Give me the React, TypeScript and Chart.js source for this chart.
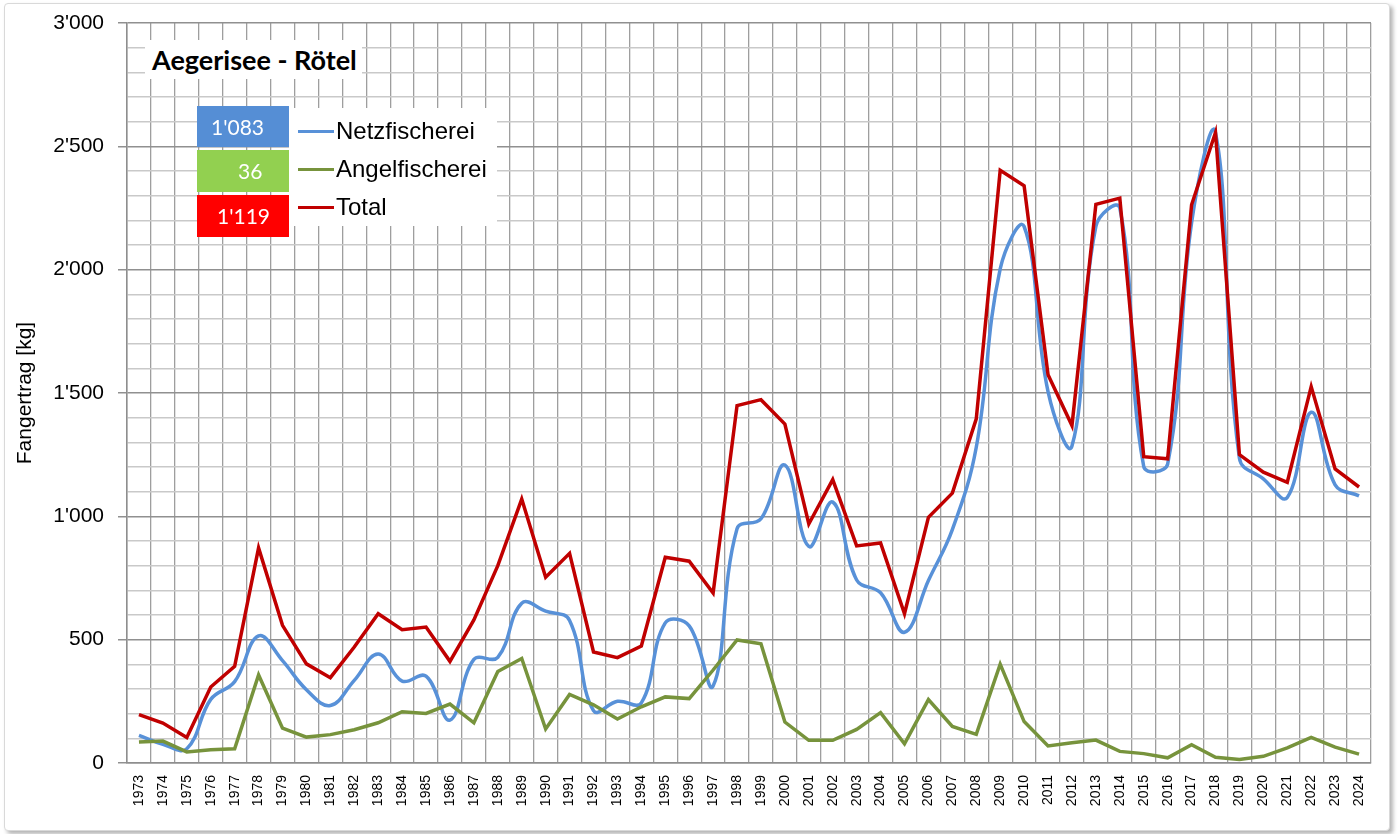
import React, { useEffect, useRef } from "react";
import { Chart, registerables } from "chart.js";

Chart.register(...registerables);

const years: string[] = [
  "1973","1974","1975","1976","1977","1978","1979","1980","1981","1982",
  "1983","1984","1985","1986","1987","1988","1989","1990","1991","1992",
  "1993","1994","1995","1996","1997","1998","1999","2000","2001","2002",
  "2003","2004","2005","2006","2007","2008","2009","2010","2011","2012",
  "2013","2014","2015","2016","2017","2018","2019","2020","2021","2022",
  "2023","2024",
];

const netzfischerei: number[] = [
  112, 76, 58, 258, 330, 515, 415, 297, 233, 335,
  442, 332, 352, 174, 420, 428, 648, 616, 578, 212,
  250, 244, 568, 556, 312, 950, 990, 1208, 878, 1058,
  742, 690, 530, 740, 946, 1280, 2003, 2175, 1506, 1285,
  2175, 2250, 1202, 1212, 2190, 2555, 1235, 1152, 1076, 1422,
  1128, 1083,
];

const angelfischerei: number[] = [
  85, 89, 45, 54, 58, 357, 141, 105, 115, 135,
  163, 208, 201, 239, 163, 371, 424, 138, 278, 236,
  178, 228, 268, 261, 377, 499, 483, 166, 92, 92,
  136, 204, 78, 257, 148, 116, 401, 168, 69, 82,
  93, 47, 38, 21, 74, 23, 14, 27, 61, 104,
  64, 36,
];

const total: number[] = [
  196, 162, 103, 308, 392, 872, 558, 402, 346, 470,
  605, 540, 551, 412, 580, 800, 1070, 753, 850, 450,
  427, 474, 834, 818, 689, 1449, 1473, 1374, 969, 1149,
  880, 892, 605, 996, 1094, 1395, 2403, 2340, 1574, 1368,
  2265, 2290, 1242, 1233, 2263, 2556, 1250, 1179, 1138, 1526,
  1192, 1119,
];

const yMin = 0;
const yMax = 3000;
const yMinorStep = 100;
const yMajorStep = 500;

const fmt = (v: number): string =>
  Math.round(v).toString().replace(/\B(?=(\d{3})+(?!\d))/g, "'");

const COLORS = {
  netzLine: "#5891D8",
  angelLine: "#77933C",
  totalLine: "#C00000",
  netzBox: "#558ED5",
  angelBox: "#92D050",
  totalBox: "#FF0000",
};

export default function App() {
  const canvasRef = useRef<HTMLCanvasElement | null>(null);

  useEffect(() => {
    if (!canvasRef.current) return;
    const yTickValues: number[] = [];
    for (let v = yMin; v <= yMax; v += yMinorStep) yTickValues.push(v);

    const chart = new Chart(canvasRef.current, {
      type: "line",
      data: {
        labels: years,
        datasets: [
          {
            label: "Netzfischerei",
            data: netzfischerei,
            borderColor: COLORS.netzLine,
            borderWidth: 3.5,
            pointRadius: 0,
            tension: 0.4,
            order: 2,
          },
          {
            label: "Angelfischerei",
            data: angelfischerei,
            borderColor: COLORS.angelLine,
            borderWidth: 3.5,
            pointRadius: 0,
            tension: 0,
            order: 1,
          },
          {
            label: "Total",
            data: total,
            borderColor: COLORS.totalLine,
            borderWidth: 3.5,
            pointRadius: 0,
            tension: 0,
            order: 0,
          },
        ],
      },
      options: {
        animation: false,
        responsive: false,
        maintainAspectRatio: false,
        layout: { padding: { left: 9, right: 27, top: 23, bottom: 0 } },
        plugins: {
          legend: { display: false },
          tooltip: { enabled: false },
          title: { display: false },
        },
        scales: {
          x: {
            type: "category",
            offset: true,
            grid: {
              offset: true,
              color: "#9e9e9e",
              lineWidth: 1.3,
              drawTicks: false,
            },
            border: { color: "#8e8e8e", width: 1.5 },
            ticks: {
              autoSkip: false,
              minRotation: 90,
              maxRotation: 90,
              padding: 12,
              color: "#000",
              font: { family: "'Liberation Sans', Arial, sans-serif", size: 14 },
            },
            afterFit: (scale: any) => {
              scale.height = 71;
              scale.paddingLeft = 0;
              scale.paddingRight = 0;
            },
          },
          y: {
            type: "linear",
            min: yMin,
            max: yMax,
            afterBuildTicks: (scale: any) => {
              scale.ticks = yTickValues.map((v) => ({ value: v }));
            },
            afterFit: (scale: any) => {
              scale.width = 118;
              scale.paddingTop = 0;
              scale.paddingBottom = 0;
            },
            grid: {
              color: (ctx: any) =>
                ctx.tick && ctx.tick.value % yMajorStep === 0 ? "#909090" : "#c9c9c9",
              tickColor: (ctx: any) =>
                ctx.tick && ctx.tick.value % yMajorStep === 0 ? "#909090" : "rgba(0,0,0,0)",
              lineWidth: 1.5,
              tickLength: 9,
            },
            border: { color: "#8e8e8e", width: 1.5 },
            ticks: {
              autoSkip: false,
              padding: 14,
              color: "#000",
              font: { family: "'Liberation Sans', Arial, sans-serif", size: 21 },
              callback: (value: any) =>
                Number(value) % yMajorStep === 0 ? fmt(Number(value)) : "",
            },
            title: {
              display: true,
              text: "Fangertrag [kg]",
              color: "#000",
              font: { family: "'Liberation Sans', Arial, sans-serif", size: 21 },
              padding: { top: 4, bottom: 0 },
            },
          },
        },
      },
    });
    return () => chart.destroy();
  }, []);

  const last = years.length - 1;
  const legendItems = [
    { label: "Netzfischerei", line: COLORS.netzLine, box: COLORS.netzBox, value: netzfischerei[last], top: 106, h: 41, textLeft: 14, rowY: 131 },
    { label: "Angelfischerei", line: COLORS.angelLine, box: COLORS.angelBox, value: angelfischerei[last], top: 150, h: 42, textLeft: 41, rowY: 169 },
    { label: "Total", line: COLORS.totalLine, box: COLORS.totalBox, value: total[last], top: 195, h: 42, textLeft: 20, rowY: 207 },
  ];

  return (
    <div style={{ position: "fixed", left: 0, top: 0, width: 1398, height: 834, background: "#fff", overflow: "hidden" }}>
      <div
        style={{
          position: "absolute",
          left: 4,
          top: 3,
          width: 1384,
          height: 826,
          border: "1px solid #d9d9d9",
          borderRadius: 4,
          boxShadow: "3px 3px 4px rgba(0,0,0,0.3)",
          background: "#fff",
        }}
      />
      <canvas ref={canvasRef} width={1398} height={834} style={{ position: "absolute", left: 0, top: 0, width: 1398, height: 834 }} />
      <div
        style={{
          position: "absolute",
          left: 145,
          top: 40,
          width: 217,
          height: 39,
          background: "#fff",
          fontFamily: "Lato, 'Liberation Sans', sans-serif",
          fontWeight: 700,
          fontSize: 27,
          lineHeight: "39px",
          paddingLeft: 7,
          boxSizing: "border-box",
          color: "#000",
          whiteSpace: "nowrap",
        }}
      >
        Aegerisee - Rötel
      </div>
      <div style={{ position: "absolute", left: 289, top: 108, width: 208, height: 118, background: "#fff" }} />
      {legendItems.map((it) => (
        <React.Fragment key={it.label}>
          <div
            style={{
              position: "absolute",
              left: 197,
              top: it.top,
              width: 92,
              height: it.h,
              background: it.box,
              color: "#fff",
              fontFamily: "Lato, 'Liberation Sans', sans-serif",
              fontSize: 21,
              lineHeight: it.h + "px",
              paddingLeft: it.textLeft,
              boxSizing: "border-box",
              whiteSpace: "nowrap",
            }}
          >
            {fmt(it.value)}
          </div>
          <div
            style={{
              position: "absolute",
              left: 298,
              top: it.rowY - 1.5,
              width: 36,
              height: 3.5,
              background: it.line,
            }}
          />
          <div
            style={{
              position: "absolute",
              left: 336,
              top: it.rowY - 15,
              height: 30,
              lineHeight: "30px",
              fontFamily: "'Liberation Sans', Arial, sans-serif",
              fontSize: 24,
              color: "#000",
              whiteSpace: "nowrap",
            }}
          >
            {it.label}
          </div>
        </React.Fragment>
      ))}
    </div>
  );
}
